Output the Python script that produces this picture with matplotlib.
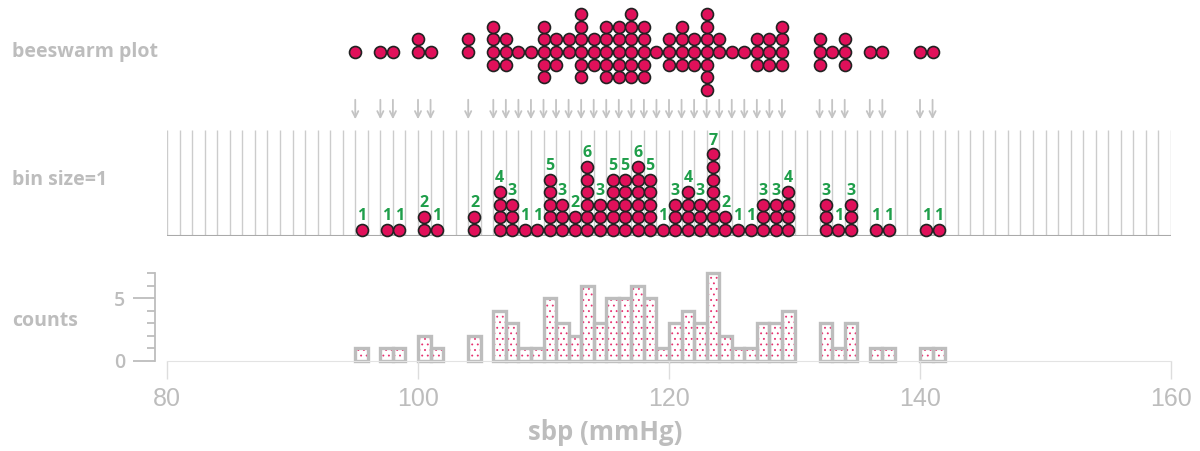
import matplotlib.pyplot as plt
import numpy as np

# sbp values (integer, mmHg) and how many patients had each
sbp_values = [95, 97, 98, 100, 101, 104, 106, 107, 108, 109, 110, 111, 112, 113,
              114, 115, 116, 117, 118, 119, 120, 121, 122, 123, 124, 125, 126,
              127, 128, 129, 132, 133, 134, 136, 137, 140, 141]
sbp_counts = [1, 1, 1, 2, 1, 2, 4, 3, 1, 1, 5, 3, 2, 6,
              3, 5, 5, 6, 5, 1, 3, 4, 3, 7, 2, 1, 1,
              3, 3, 4, 3, 1, 3, 1, 1, 1, 1]
x_ticks = [80, 100, 120, 140, 160]
panel_labels = ["beeswarm plot", "bin size=1", "counts"]

PINK = "#e0105a"
GREEN = "#1f9e4a"
GRAY = "#bdbdbd"
FONT = "Open Sans"

plt.rcParams["hatch.linewidth"] = 0.6

W, H = 1200, 451
fig = plt.figure(figsize=(12, 4.51), dpi=100)
x0, x1 = 167, 1171
unit = (x1 - x0) / 80.0


def frac_axes(top_px, bot_px):
    return fig.add_axes([x0 / W, 1 - bot_px / H, (x1 - x0) / W, (bot_px - top_px) / H])


# ---- beeswarm ----
ax_b = frac_axes(0, 128)
ax_b.set_xlim(80, 160)
ax_b.set_ylim(-76 / unit, 52 / unit)
ax_b.axis("off")
offsets = [0, 1, -1, 2, -2, 3, -3]
bx, by = [], []
for v, n in zip(sbp_values, sbp_counts):
    for j in range(n):
        bx.append(v)
        by.append(offsets[j])
ax_b.scatter(bx, by, s=74, color=PINK, edgecolor="#222222", linewidth=1.2, zorder=3, clip_on=False)
for v in sbp_values:
    ax_b.annotate("", xy=(v, -70 / unit), xytext=(v, -45 / unit),
                  arrowprops=dict(arrowstyle="->", color="#c4c4c4", lw=1.3, mutation_scale=11))

# ---- binned dots ----
ax_m = frac_axes(130, 236)
ax_m.set_xlim(80, 160)
ax_m.set_ylim(0, 106 / unit)
ax_m.axis("off")
ax_m.vlines(np.arange(80, 161), 0, 106 / unit, color="#cccccc", lw=1)
ax_m.hlines(0, 80, 160, color="#aaaaaa", lw=1.5)
mx, my = [], []
for v, n in zip(sbp_values, sbp_counts):
    for j in range(n):
        mx.append(v + 0.5)
        my.append(j + 0.5)
    ax_m.text(v + 0.5, n + 0.6, str(n), color=GREEN, fontsize=11.5, fontweight="bold",
              family=FONT, ha="center", va="center")
ax_m.scatter(mx, my, s=74, color=PINK, edgecolor="#222222", linewidth=1.2, zorder=3, clip_on=False)

# ---- histogram ----
ax_h = frac_axes(273, 361)
ax_h.set_xlim(80, 160)
ax_h.set_ylim(0, 7)
ax_h.bar(sbp_values, sbp_counts, width=1, align="edge", color="white",
         edgecolor="#e8306f", hatch="...", linewidth=0)
ax_h.bar(sbp_values, sbp_counts, width=1, align="edge", fill=False,
         edgecolor=GRAY, linewidth=2.4, clip_on=False)
for s in ["top", "right"]:
    ax_h.spines[s].set_visible(False)
ax_h.spines["bottom"].set_color("#e3e3e3")
ax_h.spines["left"].set_color(GRAY)
ax_h.spines["left"].set_linewidth(1.3)
ax_h.spines["left"].set_position(("outward", 9))
ax_h.spines["left"].set_bounds(0, 7)
ax_h.set_xticks(x_ticks)
ax_h.set_xticklabels([str(t) for t in x_ticks], family="Liberation Sans")
ax_h.tick_params(axis="x", length=13, width=1, color="#dddddd", labelsize=18,
                 labelcolor=GRAY, pad=6)
ax_h.set_yticks([0, 5])
ax_h.set_yticks(range(8), minor=True)
ax_h.set_yticklabels(["0", "5"], family=FONT, fontweight="semibold")
ax_h.tick_params(axis="y", which="major", length=16, width=1.3, color=GRAY,
                 labelsize=14, labelcolor=GRAY, pad=5)
ax_h.tick_params(axis="y", which="minor", length=6, width=1.3, color=GRAY)

# ---- text ----
for lab, ypx in zip(panel_labels, [52, 180, 321]):
    fig.text(12 / W, 1 - ypx / H, lab, color=GRAY, fontsize=14, fontweight="bold",
             family=FONT, ha="left", va="center")
fig.text(605 / W, 1 - 432 / H, "sbp (mmHg)", color=GRAY, fontsize=18.5, fontweight="bold",
         family=FONT, ha="center", va="center")

fig.savefig("out.png", dpi=100)
